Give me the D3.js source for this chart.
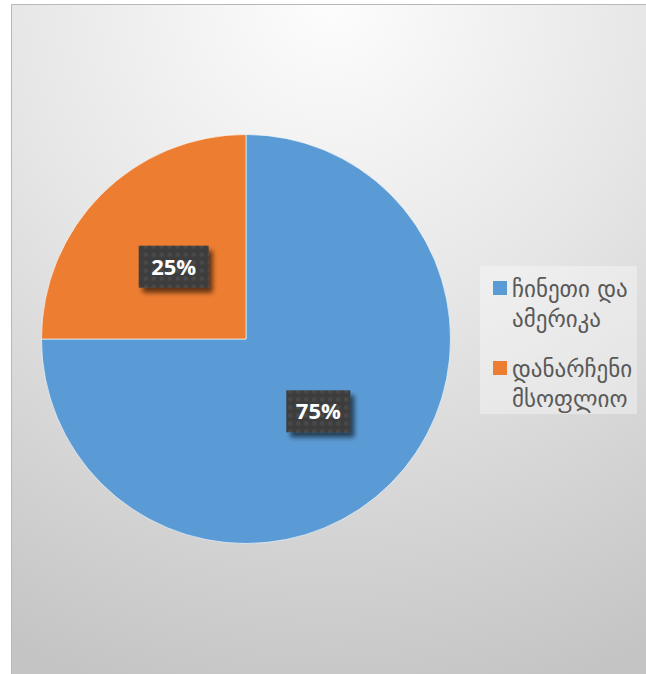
<!DOCTYPE html>
<html>
<head>
<meta charset="utf-8">
<script src="https://cdn.jsdelivr.net/npm/d3@7"></script>
<style>
  html, body { margin: 0; padding: 0; background: #ffffff; }
  svg { display: block; }
</style>
</head>
<body>
<script>
// Share of the two groups
const categories = ["ჩინეთი და ამერიკა", "დანარჩენი მსოფლიო"];
const legendLines = [["ჩინეთი და", "ამერიკა"], ["დანარჩენი", "მსოფლიო"]];
const values = [75, 25];
const labels = ["75%", "25%"];
const colors = ["#5b9bd5", "#ed7d31"];

const W = 646, H = 674;
const svg = d3.select("body").append("svg").attr("width", W).attr("height", H);
const defs = svg.append("defs");

// Chart area background: radial grey gradient
const bg = defs.append("radialGradient").attr("id", "bgGrad")
  .attr("gradientUnits", "userSpaceOnUse")
  .attr("cx", 330).attr("cy", 0).attr("r", 720);
bg.append("stop").attr("offset", "0%").attr("stop-color", "#fdfdfd");
bg.append("stop").attr("offset", "45%").attr("stop-color", "#e6e6e6");
bg.append("stop").attr("offset", "100%").attr("stop-color", "#c4c4c4");

// Drop shadow for labels
const sh = defs.append("filter").attr("id", "shadow")
  .attr("x", "-30%").attr("y", "-30%").attr("width", "170%").attr("height", "190%");
sh.append("feGaussianBlur").attr("in", "SourceAlpha").attr("stdDeviation", 2.5).attr("result", "b");
sh.append("feOffset").attr("in", "b").attr("dx", 4).attr("dy", 5).attr("result", "o");
sh.append("feComponentTransfer").attr("in", "o").attr("result", "o2")
  .append("feFuncA").attr("type", "linear").attr("slope", 0.6);
const m = sh.append("feMerge");
m.append("feMergeNode").attr("in", "o2");
m.append("feMergeNode").attr("in", "SourceGraphic");

// Subtle dotted texture on the label boxes
const pat = defs.append("pattern").attr("id", "dots")
  .attr("patternUnits", "userSpaceOnUse").attr("width", 8).attr("height", 8);
pat.append("rect").attr("width", 8).attr("height", 8).attr("fill", "#3d3d3d");
pat.append("circle").attr("cx", 4).attr("cy", 4).attr("r", 2.2).attr("fill", "#4a4a4a");

// Chart frame
svg.append("rect").attr("x", 11).attr("y", 4).attr("width", W - 11).attr("height", H - 4)
  .attr("fill", "url(#bgGrad)");
svg.append("path").attr("d", `M11.5,${H} V4.5 H${W}`)
  .attr("fill", "none").attr("stroke", "#b8b8b8").attr("stroke-width", 1);

// Pie
const cx = 246, cy = 339, r = 204.5;
const pie = d3.pie().sort(null).value(d => d)
  .startAngle(0).endAngle(2 * Math.PI);
const arcs = pie(values);
const arc = d3.arc().innerRadius(0).outerRadius(r);
const g = svg.append("g").attr("transform", `translate(${cx},${cy})`);
g.selectAll("path.slice").data(arcs).enter().append("path")
  .attr("class", "slice")
  .attr("d", arc)
  .attr("fill", (d, i) => colors[i])
  .attr("stroke", "#ffffff").attr("stroke-opacity", 0.6).attr("stroke-width", 1);

// Data labels at the slice centroids
const lg = g.selectAll("g.lbl").data(arcs).enter().append("g")
  .attr("class", "lbl")
  .attr("transform", d => { const c = arc.centroid(d); return `translate(${c[0]},${c[1]})`; });
lg.append("rect")
  .attr("x", (d, i) => i === 1 ? -35 : -32).attr("y", -21)
  .attr("width", (d, i) => i === 1 ? 70 : 64).attr("height", 42)
  .attr("fill", "url(#dots)").attr("filter", "url(#shadow)");
lg.append("text")
  .attr("text-anchor", "middle").attr("dy", "0.36em")
  .attr("font-family", "'Open Sans', 'DejaVu Sans', sans-serif")
  .attr("font-weight", "bold").attr("font-size", 22)
  .attr("fill", "#ffffff")
  .text((d, i) => labels[i]);

// Legend
const legX = 480, legY = 266;
svg.append("rect").attr("x", legX).attr("y", legY).attr("width", 157).attr("height", 148)
  .attr("fill", "#ffffff").attr("fill-opacity", 0.35);
const items = svg.selectAll("g.leg").data(categories).enter().append("g")
  .attr("class", "leg")
  .attr("transform", (d, i) => `translate(${legX},${legY + i * 80})`);
items.append("rect").attr("x", 13).attr("y", 15).attr("width", 14).attr("height", 14)
  .attr("fill", (d, i) => colors[i]);
items.each(function(d, i) {
  const t = d3.select(this).append("text")
    .attr("font-family", "'DejaVu Sans', sans-serif")
    .attr("font-size", 23).attr("fill", "#595959");
  legendLines[i].forEach((line, j) => {
    t.append("tspan").attr("x", 32).attr("y", 31 + j * 30).text(line);
  });
});
</script>
</body>
</html>
